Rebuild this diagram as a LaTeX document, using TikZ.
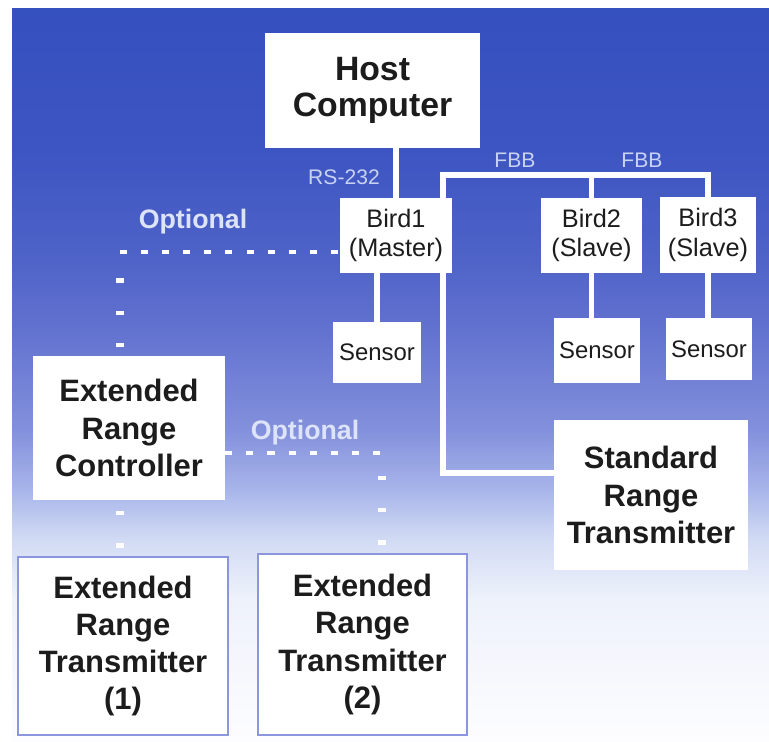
\documentclass[tikz,border=0pt]{standalone}
\usepackage{fontspec}
\setmainfont{Liberation Sans}
\usetikzlibrary{positioning, calc}
\definecolor{skytop}{HTML}{3550BF}
\definecolor{skyA}{HTML}{3D55C2}
\definecolor{skyB}{HTML}{4F63C8}
\definecolor{skyC}{HTML}{6272CF}
\definecolor{skyD}{HTML}{8390DC}
\definecolor{skyE}{HTML}{A8B5EA}
\definecolor{skyF}{HTML}{D2DBF4}
\definecolor{skyG}{HTML}{EEF2FB}
\definecolor{skylow}{HTML}{FDFDFF}
\definecolor{busgrey}{HTML}{C8D2F2}
\definecolor{optwhite}{HTML}{DDE3F8}
\definecolor{ertedge}{HTML}{8C96DC}
\definecolor{inkblack}{HTML}{1C1C1C}
\pgfdeclarelayer{backdrop}
\pgfdeclarelayer{wires}
\pgfsetlayers{backdrop,wires,main}
\pgfdeclareverticalshading{skyfade}{100bp}{color(0bp)=(skylow); color(25bp)=(skylow);
  color(34.7bp)=(skyG); color(38.8bp)=(skyF); color(42.2bp)=(skyE); color(46.3bp)=(skyD);
  color(53.1bp)=(skyC); color(57.9bp)=(skyB); color(65.4bp)=(skyA); color(75bp)=(skytop);
  color(100bp)=(skytop)}

\begin{document}
\begin{tikzpicture}[
    x=0.025cm, y=-0.025cm,
    unitbox/.style={fill=white, inner sep=0pt, align=center, text=inkblack},
    bigbox/.style={unitbox, font=\fontsize{22}{26.5}\selectfont\bfseries},
    birdbox/.style={unitbox, minimum height=1.875cm, font=\fontsize{18}{21}\selectfont},
    sensorbox/.style={unitbox, font=\fontsize{17}{20}\selectfont},
    ertbox/.style={bigbox, draw=ertedge, line width=1.4pt},
    link/.style={draw=white, line width=3.6pt},
    opth/.style={draw=white, line width=3pt, dash pattern=on 5pt off 10pt},
    optv/.style={draw=white, line width=5pt, dash pattern=on 3pt off 20pt, dash phase=17pt},
    busname/.style={text=busgrey, font=\fontsize{15}{18}\selectfont},
    optname/.style={text=optwhite, font=\fontsize{19}{22}\selectfont\bfseries},
]
    \useasboundingbox (0,0) rectangle (769,742);

    % Backdrop
    \begin{pgfonlayer}{backdrop}
        \fill[white] (0,0) rectangle (769,742);
        \shade[shading=skyfade] (12,9) rectangle (769,742);
    \end{pgfonlayer}

    % Host and birds
    \node[bigbox, font=\fontsize{24}{25.5}\selectfont\bfseries, minimum width=5.375cm, minimum height=2.875cm]
        (host) at (372.5, 90.5) {Host\\Computer};
    \node[birdbox, minimum width=2.8cm] (bird1) at (396, 235.5) {Bird1\\(Master)};
    \node[birdbox, minimum width=2.525cm] (bird2) at (591.5, 235.5) {Bird2\\(Slave)};
    \node[birdbox, minimum width=2.4cm] (bird3) at (708, 235) {Bird3\\(Slave)};

    % Sensors
    \node[sensorbox, minimum width=2.2cm, minimum height=1.525cm] (sensor1) at (377, 352.5) {Sensor};
    \node[sensorbox, minimum width=2.15cm, minimum height=1.625cm] (sensor2) at (597, 350.5) {Sensor};
    \node[sensorbox, minimum width=2.15cm, minimum height=1.55cm] (sensor3) at (709, 349) {Sensor};

    % Transmitters and controller
    \node[bigbox, minimum width=4.85cm, minimum height=3.75cm] (std) at (651, 495) {Standard\\Range\\Transmitter};
    \node[bigbox, minimum width=4.8cm, minimum height=3.6cm] (erc) at (129, 428) {Extended\\Range\\Controller};
    \node[ertbox, minimum width=5.25cm, minimum height=4.45cm] (ert1) at (123, 646) {Extended\\Range\\Transmitter\\(1)};
    \node[ertbox, minimum width=5.225cm, minimum height=4.525cm] (ert2) at (362.5, 644.5) {Extended\\Range\\Transmitter\\(2)};

    % Labels
    \node[busname] (rslabel) at (344, 177) {RS-232};
    \node[busname] (fbbone) at (515, 160) {FBB};
    \node[busname] (fbbtwo) at (642, 160) {FBB};
    \node[optname] (optup) at (193, 222) {Optional};
    \node[optname] (optlow) at (305, 433) {Optional};

    \coordinate (busL) at (443, 175);
    \coordinate (busB) at (443, 473);
    \coordinate (optA) at (120, 252);
    \coordinate (optB) at (382, 453);

    \begin{pgfonlayer}{wires}
        % RS-232
        \draw[link] (bird1.north) -- (bird1.north |- host.south);
        % FBB bus
        \draw[link] (bird3.north) |- (busL) -- (busB) -- (busB -| std.west);
        \draw[link] (bird2.north) -- (bird2.north |- busL);
        % sensor cables
        \draw[link] (sensor1.north) -- (sensor1.north |- bird1.south);
        \draw[link] (bird2.south) -- (bird2.south |- sensor2.north);
        \draw[link] (bird3.south) -- (bird3.south |- sensor3.north);
        % optional extended range
        \draw[opth] (optA) -- (optA -| bird1.west);
        \draw[optv] (optA |- erc.north) -- (optA);
        \draw[optv] (optA |- ert1.north) -- (optA |- erc.south);
        \draw[opth] (erc.east |- optB) -- (optB);
        \draw[optv] (optB |- ert2.north) -- (optB);
    \end{pgfonlayer}
\end{tikzpicture}
\end{document}
